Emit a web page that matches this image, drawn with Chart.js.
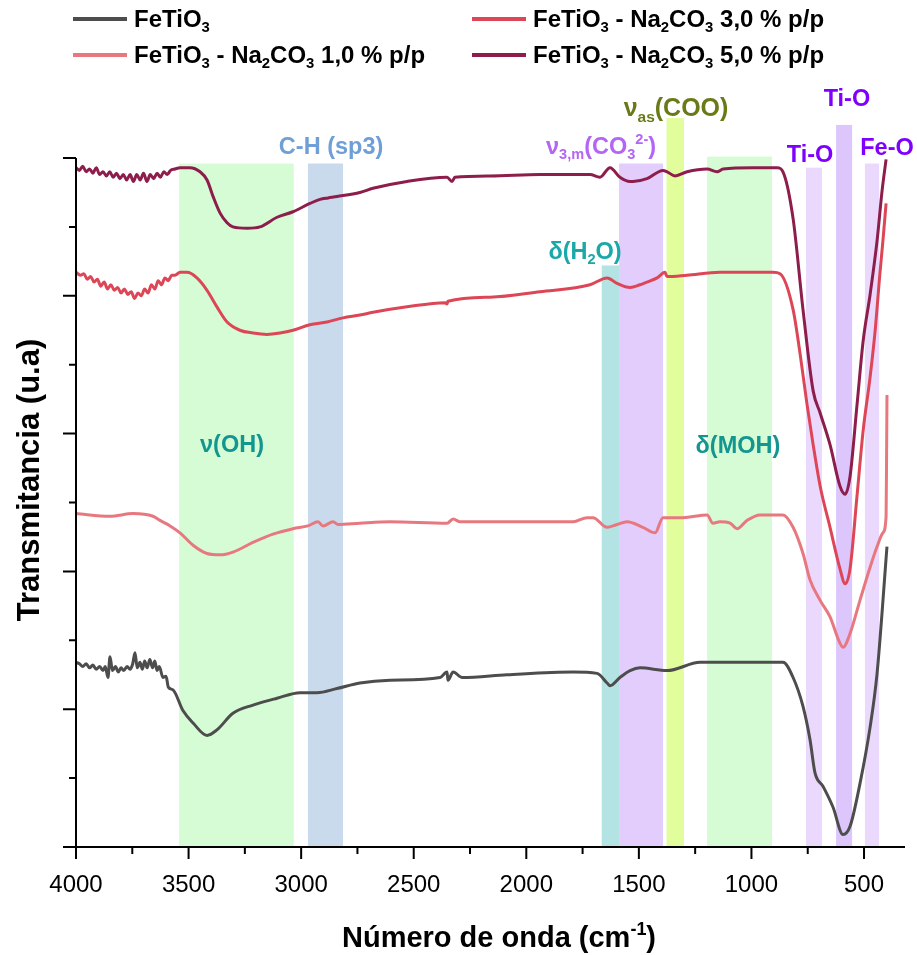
<!DOCTYPE html>
<html>
<head>
<meta charset="utf-8">
<script src="https://cdn.jsdelivr.net/npm/chart.js@4"></script>
<style>
  html, body { margin: 0; padding: 0; background: #fff; }
  #wrap { width: 917px; height: 955px; position: relative; }
</style>
</head>
<body>
<div id="wrap"><canvas id="myChart"></canvas></div>
<script>
// FTIR spectra, wavenumber in cm-1 and transmittance in u.a. (stacked offsets)
const seriesNames = ["FeTiO3", "FeTiO3 - Na2CO3 1,0 % p/p", "FeTiO3 - Na2CO3 3,0 % p/p", "FeTiO3 - Na2CO3 5,0 % p/p"];

const feWn = [4000,3985,3970,3955,3940,3925,3910,3895,3880,3870,3858,3849,3838,3825,3812,3800,3788,3773,3760,3748,3738,3728,3716,3705,3695,3684,3672,3660,3650,3640,3630,3614,3600,3590,3569,3525,3480,3418,3374,3303,3214,3107,3005,2930,2841,2739,2605,2383,2352,2348,2325,2285,2086,1792,1686,1641,1628,1584,1539,1495,1375,1228,860,815,771,740,718,682,638,593,562,518,473,442,398];
const feT = [1.34,1.33,1.31,1.33,1.30,1.32,1.29,1.31,1.28,1.31,1.23,1.38,1.28,1.31,1.27,1.30,1.28,1.31,1.29,1.33,1.41,1.30,1.34,1.29,1.35,1.30,1.36,1.30,1.35,1.28,1.31,1.23,1.24,1.16,1.14,0.99,0.90,0.81,0.85,0.97,1.03,1.08,1.12,1.12,1.15,1.19,1.21,1.23,1.27,1.21,1.27,1.23,1.25,1.27,1.26,1.19,1.17,1.23,1.28,1.30,1.28,1.34,1.34,1.23,1.02,0.78,0.54,0.44,0.29,0.09,0.15,0.46,0.87,1.26,2.18];

const na1Wn = [4000,3849,3747,3658,3627,3582,3538,3480,3418,3360,3303,3214,3125,3036,2970,2925,2903,2858,2836,2739,2605,2352,2325,2294,2086,1792,1730,1704,1641,1597,1553,1482,1428,1393,1304,1197,1171,1140,1095,1064,1020,962,860,815,771,740,695,651,607,593,562,518,473,442,416,402,400,398];
const na1T = [2.42,2.40,2.42,2.40,2.37,2.33,2.28,2.19,2.13,2.12,2.14,2.21,2.27,2.31,2.33,2.36,2.33,2.36,2.34,2.35,2.36,2.35,2.38,2.36,2.36,2.36,2.39,2.39,2.32,2.34,2.36,2.32,2.28,2.39,2.39,2.41,2.35,2.36,2.35,2.31,2.37,2.41,2.41,2.32,2.13,1.94,1.79,1.67,1.48,1.45,1.55,1.79,2.03,2.18,2.28,2.40,2.79,3.28];

const na3Wn = [4000,3980,3965,3950,3935,3920,3905,3890,3875,3860,3845,3830,3815,3800,3785,3770,3755,3740,3725,3710,3695,3680,3665,3650,3635,3620,3605,3590,3575,3560,3538,3507,3463,3418,3374,3329,3272,3214,3152,3094,3036,2961,2885,2814,2739,2681,2530,2361,2352,2348,2161,1939,1717,1641,1597,1539,1495,1464,1419,1384,1375,1286,1140,904,873,815,784,753,726,695,651,607,584,562,531,504,473,451,429,416,402];
const na3T = [4.17,4.15,4.16,4.12,4.14,4.10,4.12,4.07,4.10,4.05,4.08,4.04,4.06,4.02,4.05,4.01,4.03,3.98,4.02,4.00,4.05,4.02,4.08,4.05,4.11,4.08,4.13,4.11,4.15,4.15,4.17,4.17,4.13,4.04,3.92,3.81,3.75,3.73,3.72,3.73,3.75,3.79,3.81,3.84,3.86,3.88,3.92,3.95,3.94,3.96,3.99,4.03,4.08,4.13,4.09,4.06,4.08,4.10,4.13,4.17,4.14,4.15,4.17,4.17,4.16,3.90,3.58,3.21,2.92,2.62,2.32,2.02,1.91,2.02,2.55,3.02,3.41,3.74,4.17,4.40,4.67];

const na5Wn = [4000,3985,3970,3955,3940,3925,3910,3895,3880,3865,3850,3835,3820,3805,3790,3775,3760,3745,3730,3715,3700,3685,3670,3655,3640,3625,3610,3595,3580,3560,3538,3494,3449,3418,3391,3360,3329,3303,3240,3183,3107,3036,2961,2916,2880,2841,2739,2681,2530,2352,2330,2317,2161,1939,1717,1673,1628,1584,1539,1526,1464,1393,1375,1339,1286,1197,1153,1126,993,886,860,815,771,726,695,651,607,584,562,531,504,473,442,420,402];
const na5T = [4.93,4.91,4.94,4.90,4.92,4.89,4.93,4.88,4.90,4.87,4.90,4.86,4.89,4.85,4.88,4.84,4.88,4.83,4.88,4.84,4.89,4.83,4.88,4.85,4.89,4.86,4.90,4.88,4.91,4.92,4.93,4.93,4.90,4.84,4.72,4.60,4.53,4.50,4.49,4.50,4.57,4.61,4.67,4.70,4.71,4.72,4.75,4.78,4.83,4.86,4.83,4.86,4.87,4.88,4.88,4.86,4.93,4.86,4.83,4.83,4.85,4.91,4.90,4.87,4.90,4.92,4.90,4.92,4.93,4.93,4.90,4.56,3.90,3.31,3.15,2.92,2.62,2.56,2.69,3.21,3.67,4.01,4.40,4.76,4.99];

// x tick labels and y tick positions
const xTickValues = [4000, 3500, 3000, 2500, 2000, 1500, 1000, 500];
const yTickValues = [0, 1, 2, 3, 4, 5];

// assignment bands (cm-1) and the height they reach (u.a.)
const bandFrom = [3542, 2970, 1665, 1588, 1377, 1197, 758, 624, 496];
const bandTo   = [3033, 2814, 1588, 1393, 1300, 909, 687, 553, 433];
const bandTop  = [4.96, 4.96, 4.22, 4.96, 5.29, 5.01, 4.93, 5.24, 4.96];

// band labels: position in (cm-1, u.a.)
const labelWn = [2867, 3307, 1060, 1739, 1668, 1335, 576, 740, 398];
const labelT  = [5.09, 2.93, 2.92, 4.33, 5.09, 5.37, 5.44, 5.03, 5.08];

const FONT = '"Liberation Sans", Arial, Helvetica, sans-serif';
const colors = ["#4d4d4d", "#e8787f", "#dd4656", "#8d1d4b"];
const bandColors = ["#d5fcd5", "#c8daec", "#b3e3e3", "#e2cdfc", "#e2fd9b", "#d5fcd5", "#ead9fc", "#dcc6fb", "#ead9fc"];

// rich text pieces: [text, mode] where mode is "", "sub" or "sup"
const labelParts = [
  [["C-H (sp3)", ""]],
  [["\u03bd(OH)", ""]],
  [["\u03b4(MOH)", ""]],
  [["\u03b4(H", ""], ["2", "sub"], ["O)", ""]],
  [["\u03bd", ""], ["3,m", "sub"], ["(CO", ""], ["3", "sub"], ["2-", "sup"], [")", ""]],
  [["\u03bd", ""], ["as", "sub"], ["(COO)", ""]],
  [["Ti-O", ""]],
  [["Ti-O", ""]],
  [["Fe-O", ""]]
];
const labelColors = ["#6f9fd6", "#12968f", "#12968f", "#1aa9a8", "#b366f5", "#6b7a18", "#7f00ff", "#7f00ff", "#7f00ff"];
const labelSizes = [23.5, 23.5, 23.5, 23.5, 23.5, 25, 23.5, 23.5, 23.5];

const legendParts = [
  [["FeTiO", ""], ["3", "sub"]],
  [["FeTiO", ""], ["3", "sub"], [" - Na", ""], ["2", "sub"], ["CO", ""], ["3", "sub"], [" 1,0 % p/p", ""]],
  [["FeTiO", ""], ["3", "sub"], [" - Na", ""], ["2", "sub"], ["CO", ""], ["3", "sub"], [" 3,0 % p/p", ""]],
  [["FeTiO", ""], ["3", "sub"], [" - Na", ""], ["2", "sub"], ["CO", ""], ["3", "sub"], [" 5,0 % p/p", ""]]
];

function richText(ctx, parts, x, y, size, color, align, weight) {
  const small = size * 0.62;
  weight = weight || "bold";
  let total = 0;
  const widths = parts.map(([t, m]) => {
    ctx.font = `${weight} ${m ? small : size}px ${FONT}`;
    const w = ctx.measureText(t).width;
    total += w;
    return w;
  });
  let cx = align === "center" ? x - total / 2 : x;
  ctx.fillStyle = color;
  ctx.textAlign = "left";
  ctx.textBaseline = "alphabetic";
  parts.forEach(([t, m], i) => {
    ctx.font = `${weight} ${m ? small : size}px ${FONT}`;
    const dy = m === "sub" ? size * 0.22 : m === "sup" ? -size * 0.42 : 0;
    ctx.fillText(t, cx, y + dy);
    cx += widths[i];
  });
}

const bandPlugin = {
  id: "bands",
  beforeDatasetsDraw(chart) {
    const { ctx, scales: { x, y } } = chart;
    ctx.save();
    bandFrom.forEach((f, i) => {
      const x1 = x.getPixelForValue(f);
      const x2 = x.getPixelForValue(bandTo[i]);
      const y1 = y.getPixelForValue(bandTop[i]);
      const y2 = y.getPixelForValue(0);
      ctx.fillStyle = bandColors[i];
      ctx.fillRect(x1, y1, x2 - x1, y2 - y1);
    });
    ctx.restore();
  }
};

const decorPlugin = {
  id: "decor",
  afterDraw(chart) {
    const { ctx, chartArea: a, scales: { x, y } } = chart;
    ctx.save();

    // axes
    ctx.strokeStyle = "#000";
    ctx.lineWidth = 2;
    ctx.beginPath();
    ctx.moveTo(a.left, a.top);
    ctx.lineTo(a.left, a.bottom);
    ctx.lineTo(a.right, a.bottom);
    ctx.stroke();

    // x ticks (major + minor halfway)
    ctx.beginPath();
    xTickValues.forEach((v, i) => {
      const px = x.getPixelForValue(v);
      ctx.moveTo(px, a.bottom);
      ctx.lineTo(px, a.bottom + 12);
      if (i < xTickValues.length - 1) {
        const mx = x.getPixelForValue((v + xTickValues[i + 1]) / 2);
        ctx.moveTo(mx, a.bottom);
        ctx.lineTo(mx, a.bottom + 7);
      }
    });
    // y ticks
    yTickValues.forEach((v, i) => {
      const py = y.getPixelForValue(v);
      ctx.moveTo(a.left, py);
      ctx.lineTo(a.left - 13, py);
      if (i < yTickValues.length - 1) {
        const my = y.getPixelForValue((v + yTickValues[i + 1]) / 2);
        ctx.moveTo(a.left, my);
        ctx.lineTo(a.left - 7, my);
      }
    });
    ctx.stroke();

    // x tick labels
    ctx.fillStyle = "#000";
    ctx.font = `24px ${FONT}`;
    ctx.textAlign = "center";
    ctx.textBaseline = "middle";
    xTickValues.forEach(v => {
      ctx.fillText(String(v), x.getPixelForValue(v), a.bottom + 38);
    });

    // axis titles
    richText(ctx, [["N\u00famero de onda (cm", ""], ["-1", "sup"], [")", ""]], 499, 947, 29, "#000", "center");
    ctx.save();
    ctx.translate(39, 480);
    ctx.rotate(-Math.PI / 2);
    richText(ctx, [["Transmitancia (u.a)", ""]], 0, 0, 31, "#000", "center");
    ctx.restore();

    // band labels
    labelParts.forEach((parts, i) => {
      const px = x.getPixelForValue(labelWn[i]);
      const py = y.getPixelForValue(labelT[i]);
      richText(ctx, parts, px, py + labelSizes[i] * 0.36, labelSizes[i], labelColors[i], "center");
    });

    // legend (two columns)
    const legX = [73, 73, 472, 472];
    const legY = [19, 55, 19, 55];
    legendParts.forEach((parts, i) => {
      ctx.strokeStyle = colors[i];
      ctx.lineWidth = 4;
      ctx.beginPath();
      ctx.moveTo(legX[i], legY[i]);
      ctx.lineTo(legX[i] + 54, legY[i]);
      ctx.stroke();
      richText(ctx, parts, legX[i] + 61, legY[i] + 8, 24, "#000", "left");
    });

    ctx.restore();
  }
};

function toPoints(wn, t) {
  return wn.map((v, i) => ({ x: v, y: t[i] }));
}

new Chart("myChart", {
  type: "line",
  data: {
    datasets: [
      { label: seriesNames[0], data: toPoints(feWn, feT), borderColor: colors[0] },
      { label: seriesNames[1], data: toPoints(na1Wn, na1T), borderColor: colors[1] },
      { label: seriesNames[2], data: toPoints(na3Wn, na3T), borderColor: colors[2] },
      { label: seriesNames[3], data: toPoints(na5Wn, na5T), borderColor: colors[3] }
    ]
  },
  options: {
    responsive: true,
    maintainAspectRatio: false,
    animation: false,
    clip: false,
    layout: { padding: { left: 76, right: 12, top: 158, bottom: 108 } },
    elements: {
      point: { radius: 0 },
      line: { borderWidth: 3, cubicInterpolationMode: "monotone", fill: false }
    },
    scales: {
      x: { type: "linear", reverse: true, min: 318, max: 4000, display: false },
      y: { type: "linear", min: 0, max: 5, display: false }
    },
    plugins: {
      legend: { display: false },
      tooltip: { enabled: false }
    }
  },
  plugins: [bandPlugin, decorPlugin]
});
</script>
</body>
</html>
